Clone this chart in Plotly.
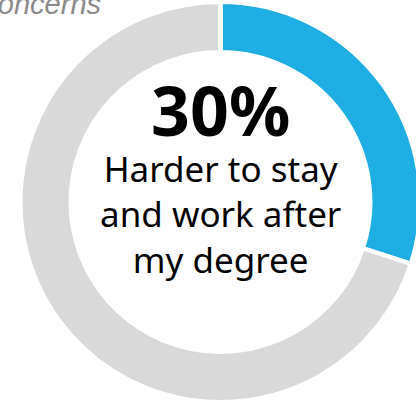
import plotly.graph_objects as go

# Survey share for the highlighted concern and the remainder of the ring
slice_labels = ["Harder to stay and work after my degree", "Other"]
slice_values = [30, 70]
slice_colors = ["#1FAEE4", "#D9D9D9"]

headline = f"{slice_values[0]}%"
caption_lines = ["Harder to stay", "and work after", "my degree"]
section_title = "Top concerns"

W, H = 441, 404  # canvas a little larger than the viewport; right/bottom edge is cropped


def px(x):
    return x / W


def py(y):
    return 1 - y / H


fig = go.Figure(
    go.Pie(
        labels=slice_labels,
        values=slice_values,
        marker=dict(colors=slice_colors, line=dict(color="white", width=4.4)),
        hole=0.748,
        sort=False,
        direction="clockwise",
        rotation=0,
        textinfo="none",
        hoverinfo="label+percent",
        showlegend=False,
        domain=dict(x=[0, 1], y=[py(402.2), py(1.8)]),
    )
)

# Headline figure and caption as one centred text block
center_text = (
    f'<span style="font-size:68px"><b>{headline}</b></span><br>'
    + "<br>".join(caption_lines)
)
fig.add_annotation(
    x=px(220), y=py(173), xref="paper", yref="paper",
    text=center_text, showarrow=False,
    xanchor="center", yanchor="middle", align="center",
    font=dict(family="Noto Sans", size=35, color="#000000"),
)

fig.add_annotation(
    x=px(103), y=py(4), xref="paper", yref="paper",
    text=f"<i>{section_title}</i>", showarrow=False,
    xanchor="right", yanchor="middle",
    font=dict(family="Liberation Sans", size=29, color="#8A8A8A"),
)

fig.update_layout(
    width=W, height=H, autosize=False,
    margin=dict(l=0, r=0, t=0, b=0, pad=0),
    paper_bgcolor="white", plot_bgcolor="white",
)

fig.write_html(
    "out.html",
    post_script="document.documentElement.style.overflow='hidden';"
                "document.body.style.overflow='hidden';document.body.style.margin='0';",
)
